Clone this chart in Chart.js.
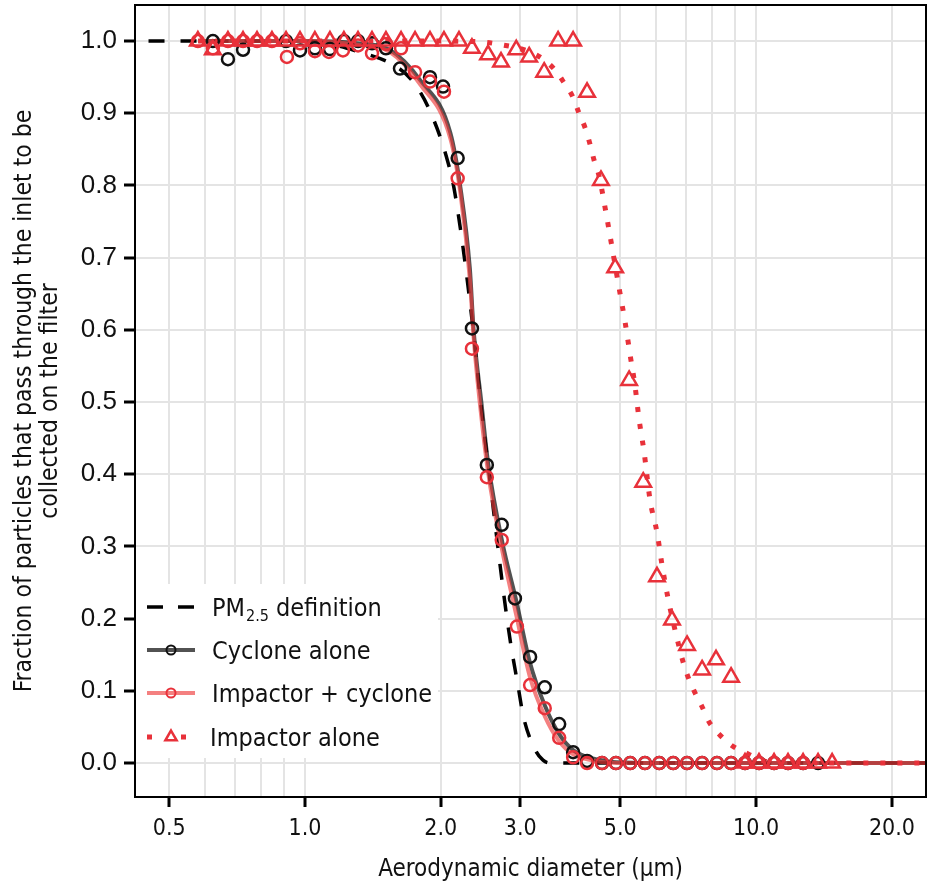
<!DOCTYPE html>
<html>
<head>
<meta charset="utf-8">
<script src="https://cdn.jsdelivr.net/npm/chart.js@4.4.1/dist/chart.umd.min.js"></script>
<style>
html, body { margin: 0; padding: 0; background: #ffffff; }
#wrap { width: 929px; height: 892px; }
</style>
</head>
<body>
<div id="wrap"><canvas id="c" width="929" height="892"></canvas></div>
<script>
// ---------- DATA ----------
const xTickValues = [0.5, 1, 2, 3, 5, 10, 20];
const xTickLabels = ['0.5', '1.0', '2.0', '3.0', '5.0', '10.0', '20.0'];
const xGridValues = [0.5, 0.6, 0.7, 0.8, 0.9, 1, 2, 3, 4, 5, 6, 7, 8, 9, 10, 20];
const yTickValues = [0, 0.1, 0.2, 0.3, 0.4, 0.5, 0.6, 0.7, 0.8, 0.9, 1.0];
const yTickLabels = ['0.0', '0.1', '0.2', '0.3', '0.4', '0.5', '0.6', '0.7', '0.8', '0.9', '1.0'];

const xTitle = 'Aerodynamic diameter (μm)';
const yTitle = ['Fraction of particles that pass through the inlet to be', 'collected on the filter'];
const legendLabels = ['PM', '2.5', ' definition', 'Cyclone alone', 'Impactor + cyclone', 'Impactor alone'];

// PM2.5 definition curve (dashed)
const pm25X = [0.45, 1.0, 1.32, 1.6, 1.74, 1.89, 2.06, 2.15, 2.36, 2.45, 2.55, 2.75, 2.85, 2.97, 3.05, 3.24, 3.37, 3.5, 23.8];
const pm25Y = [1.0, 1.0, 0.985, 0.964, 0.943, 0.904, 0.839, 0.789, 0.60, 0.50, 0.41, 0.24, 0.17, 0.105, 0.064, 0.018, 0.004, 0.0, 0.0];

// Cyclone alone: fitted line
const cycFitX = [0.58, 1.0, 1.3, 1.54, 1.8, 2.1, 2.21, 2.32, 2.365, 2.46, 2.55, 2.74, 2.94, 3.15, 3.4, 3.66, 3.93, 4.3, 4.9, 6.0, 23.8];
const cycFitY = [1.0, 1.0, 0.997, 0.988, 0.946, 0.873, 0.798, 0.685, 0.60, 0.50, 0.413, 0.305, 0.225, 0.14, 0.08, 0.04, 0.018, 0.007, 0.001, 0.0, 0.0];
// Cyclone alone: measured points
const cycX = [0.625, 0.675, 0.729, 0.908, 0.975, 1.052, 1.136, 1.22, 1.311, 1.408, 1.512, 1.624, 1.893, 2.023, 2.18, 2.345, 2.53, 2.73, 2.92, 3.155, 3.40, 3.66, 3.93, 4.22, 4.555, 4.89, 5.26, 5.67, 6.10, 6.55, 7.03, 7.59, 8.19, 8.80, 9.45, 10.15, 10.96, 11.77, 12.71, 13.72];
const cycY = [1.0, 0.975, 0.988, 1.0, 0.987, 0.99, 0.989, 1.0, 1.0, 0.997, 0.99, 0.962, 0.950, 0.937, 0.838, 0.602, 0.413, 0.33, 0.228, 0.147, 0.105, 0.054, 0.015, 0.003, 0, 0, 0, 0, 0, 0, 0, 0, 0, 0, 0, 0, 0, 0, 0, 0];

// Impactor + cyclone: fitted line
const icFitX = [0.58, 1.0, 1.3, 1.54, 1.8, 2.1, 2.21, 2.32, 2.365, 2.44, 2.55, 2.74, 2.94, 3.15, 3.4, 3.66, 3.93, 4.3, 4.9, 6.0, 23.8];
const icFitY = [1.0, 1.0, 0.995, 0.985, 0.94, 0.865, 0.79, 0.67, 0.59, 0.50, 0.40, 0.293, 0.205, 0.12, 0.065, 0.03, 0.012, 0.004, 0.0, 0.0, 0.0];
// Impactor + cyclone: measured points
const icX = [0.579, 0.625, 0.675, 0.729, 0.783, 0.845, 0.912, 0.975, 1.052, 1.13, 1.214, 1.311, 1.408, 1.512, 1.633, 1.754, 1.893, 2.033, 2.18, 2.345, 2.53, 2.73, 2.95, 3.155, 3.40, 3.66, 3.93, 4.22, 4.555, 4.89, 5.26, 5.67, 6.10, 6.55, 7.03, 7.59, 8.19, 8.80, 9.45, 10.15, 10.96, 11.77, 12.71];
const icY = [1.0, 0.99, 1.0, 1.0, 1.0, 1.0, 0.978, 0.997, 0.986, 0.985, 0.987, 0.994, 0.983, 0.996, 0.99, 0.957, 0.944, 0.930, 0.81, 0.574, 0.396, 0.309, 0.189, 0.108, 0.076, 0.035, 0.008, 0, 0, 0, 0, 0, 0, 0, 0, 0, 0, 0, 0, 0, 0, 0, 0];

// Impactor alone: fitted line (dotted)
const impFitX = [0.58, 2.0, 2.443, 2.666, 3.123, 3.372, 3.584, 3.772, 3.929, 4.051, 4.177, 4.285, 4.374, 4.487, 4.627, 4.969, 5.123, 5.255, 5.391, 5.503, 5.645, 5.821, 6.032, 6.188, 6.38, 6.613, 6.889, 7.067, 7.324, 7.59, 7.866, 8.28, 8.846, 9.502, 10.2, 11.0, 23.8];
const impFitY = [1.0, 1.0, 0.999, 0.996, 0.986, 0.975, 0.96, 0.94, 0.922, 0.90, 0.88, 0.857, 0.835, 0.813, 0.769, 0.658, 0.611, 0.566, 0.522, 0.476, 0.431, 0.364, 0.319, 0.274, 0.228, 0.184, 0.14, 0.119, 0.097, 0.078, 0.057, 0.04, 0.024, 0.014, 0.005, 0.0, 0.0];
// Impactor alone: measured points
const impX = [0.579, 0.625, 0.675, 0.729, 0.783, 0.845, 0.908, 0.975, 1.052, 1.136, 1.22, 1.311, 1.408, 1.512, 1.633, 1.754, 1.893, 2.033, 2.195, 2.345, 2.546, 2.72, 2.94, 3.14, 3.39, 3.64, 3.93, 4.22, 4.53, 4.87, 5.23, 5.62, 6.03, 6.51, 7.03, 7.59, 8.15, 8.80, 9.45, 10.15, 10.96, 11.77, 12.71, 13.72, 14.74];
const impY = [1.0, 0.988, 1.0, 1.0, 1.0, 1.0, 1.0, 1.0, 1.0, 1.0, 1.0, 1.0, 1.0, 1.0, 1.0, 1.0, 1.0, 1.0, 1.0, 0.99, 0.981, 0.971, 0.988, 0.978, 0.957, 1.0, 1.0, 0.929, 0.807, 0.686, 0.530, 0.389, 0.258, 0.198, 0.163, 0.129, 0.143, 0.119, 0, 0, 0, 0, 0, 0, 0];

// ---------- STYLE ----------
const COND = '"DejaVu Sans Condensed", "Liberation Sans Narrow", sans-serif';
const WIDE = '"Liberation Sans", Arial, sans-serif';
const RED = '#e8313a';
const LIGHTRED = 'rgba(238, 60, 60, 0.65)';
const GREY = 'rgba(0, 0, 0, 0.68)';
const GRID = '#e4e4e4';

const pts = (xs, ys) => xs.map((x, i) => ({ x: x, y: ys[i] }));

const legendPlugin = {
  id: 'customLegend',
  afterDatasetsDraw(chart) {
    const ctx = chart.ctx;
    const a = chart.chartArea;
    const L = a.left;
    const boxTop = a.bottom - 213, boxH = 174, boxW = 302;
    ctx.save();
    ctx.fillStyle = '#ffffff';
    ctx.fillRect(L + 1, boxTop, boxW, boxH);
    const x0 = L + 12, x1 = L + 60, xm = L + 36, tx = L + 77;
    const rows = [boxTop + 23, boxTop + 66, boxTop + 109, boxTop + 153];
    // row 1 : PM2.5 dashed
    ctx.strokeStyle = '#000'; ctx.lineWidth = 3.5; ctx.setLineDash([16, 15]);
    ctx.beginPath(); ctx.moveTo(x0, rows[0]); ctx.lineTo(x1, rows[0]); ctx.stroke();
    ctx.setLineDash([]);
    // row 2 : cyclone
    ctx.strokeStyle = GREY; ctx.lineWidth = 4;
    ctx.beginPath(); ctx.moveTo(x0, rows[1]); ctx.lineTo(x1, rows[1]); ctx.stroke();
    ctx.strokeStyle = '#111'; ctx.lineWidth = 2;
    ctx.beginPath(); ctx.arc(xm, rows[1], 4.5, 0, Math.PI * 2); ctx.stroke();
    // row 3 : impactor + cyclone
    ctx.strokeStyle = LIGHTRED; ctx.lineWidth = 4;
    ctx.beginPath(); ctx.moveTo(x0, rows[2]); ctx.lineTo(x1, rows[2]); ctx.stroke();
    ctx.strokeStyle = RED; ctx.lineWidth = 2;
    ctx.beginPath(); ctx.arc(xm, rows[2], 4.5, 0, Math.PI * 2); ctx.stroke();
    // row 4 : impactor alone
    ctx.fillStyle = RED;
    ctx.fillRect(x0, rows[3] - 2.5, 5, 5);
    ctx.fillRect(xm + 10, rows[3] - 2.5, 5, 5);
    ctx.strokeStyle = RED; ctx.lineWidth = 2.5;
    const r = 6.5;
    ctx.beginPath();
    ctx.moveTo(xm, rows[3] - r);
    ctx.lineTo(xm + r * 0.866, rows[3] + r * 0.5);
    ctx.lineTo(xm - r * 0.866, rows[3] + r * 0.5);
    ctx.closePath(); ctx.stroke();
    // texts
    ctx.fillStyle = '#111';
    ctx.textBaseline = 'alphabetic';
    ctx.textAlign = 'left';
    const big = '25px ' + COND, small = '16px ' + COND;
    const base = 9;
    ctx.font = big;
    ctx.fillText(legendLabels[0], tx, rows[0] + base);
    let w = ctx.measureText(legendLabels[0]).width;
    ctx.font = small;
    ctx.fillText(legendLabels[1], tx + w + 1, rows[0] + base + 5);
    const w2 = ctx.measureText(legendLabels[1]).width;
    ctx.font = big;
    ctx.fillText(legendLabels[2], tx + w + 1 + w2, rows[0] + base);
    ctx.fillText(legendLabels[3], tx, rows[1] + base);
    ctx.fillText(legendLabels[4], tx, rows[2] + base);
    ctx.fillText(legendLabels[5], tx - 2, rows[3] + base);
    ctx.restore();
  }
};

const framePlugin = {
  id: 'frame',
  afterDraw(chart) {
    const a = chart.chartArea, ctx = chart.ctx;
    ctx.save();
    ctx.strokeStyle = '#000'; ctx.lineWidth = 2;
    ctx.strokeRect(a.left, a.top, a.right - a.left, a.bottom - a.top);
    ctx.restore();
  }
};

new Chart(document.getElementById('c'), {
  type: 'scatter',
  data: {
    datasets: [
      { label: 'Impactor alone', data: pts(impX, impY), showLine: false, pointStyle: 'triangle', pointRadius: 9, pointBorderWidth: 2.5, pointBorderColor: RED, pointBackgroundColor: 'rgba(0,0,0,0)', order: 1 },
      { label: 'Impactor + cyclone', data: pts(icX, icY), showLine: false, pointStyle: 'circle', pointRadius: 6, pointBorderWidth: 2.5, pointBorderColor: RED, pointBackgroundColor: 'rgba(0,0,0,0)', order: 2 },
      { label: 'Cyclone alone', data: pts(cycX, cycY), showLine: false, pointStyle: 'circle', pointRadius: 6, pointBorderWidth: 2.5, pointBorderColor: '#111', pointBackgroundColor: 'rgba(0,0,0,0)', order: 3 },
      { label: 'Impactor alone fit', data: pts(impFitX, impFitY), showLine: true, pointRadius: 0, borderColor: RED, borderWidth: 5, borderDash: [5, 12], borderCapStyle: 'butt', cubicInterpolationMode: 'monotone', order: 4 },
      { label: 'Impactor + cyclone fit', data: pts(icFitX, icFitY), showLine: true, pointRadius: 0, borderColor: LIGHTRED, borderWidth: 4, cubicInterpolationMode: 'monotone', order: 5 },
      { label: 'Cyclone alone fit', data: pts(cycFitX, cycFitY), showLine: true, pointRadius: 0, borderColor: GREY, borderWidth: 4, cubicInterpolationMode: 'monotone', order: 6 },
      { label: 'PM2.5 definition', data: pts(pm25X, pm25Y), showLine: true, pointRadius: 0, borderColor: '#000', borderWidth: 3.5, borderDash: [16, 16], borderCapStyle: 'butt', cubicInterpolationMode: 'monotone', order: 7 }
    ]
  },
  options: {
    responsive: false,
    animation: false,
    devicePixelRatio: 1,
    layout: { autoPadding: false, padding: { left: 0, right: 3, top: 5, bottom: 0 } },
    plugins: { legend: { display: false }, tooltip: { enabled: false } },
    scales: {
      x: {
        type: 'logarithmic',
        min: 0.42, max: 23.8,
        afterBuildTicks: s => { s.ticks = xGridValues.map(v => ({ value: v })); },
        afterFit: s => { s.height = 95; s.paddingLeft = 0; s.paddingRight = 0; },
        ticks: {
          autoSkip: false, maxRotation: 0, minRotation: 0, padding: 8, color: '#111',
          font: { family: COND, size: 23 },
          callback: (v) => { const i = xTickValues.indexOf(v); return i >= 0 ? xTickLabels[i] : ''; }
        },
        grid: {
          color: GRID, lineWidth: 2, tickLength: 10, tickWidth: 3,
          tickColor: c => (c.tick && xTickValues.indexOf(c.tick.value) >= 0) ? '#000' : 'rgba(0,0,0,0)'
        },
        border: { display: false },
        title: { display: true, text: xTitle, color: '#111', font: { family: COND, size: 24 }, padding: { top: 0, bottom: 8 } }
      },
      y: {
        min: -0.047, max: 1.05,
        afterBuildTicks: s => { s.ticks = yTickValues.map(v => ({ value: v })); },
        afterFit: s => { s.width = 135; s.paddingTop = 0; s.paddingBottom = 0; },
        ticks: {
          padding: 7, color: '#111',
          font: { family: WIDE, size: 26 },
          callback: (v) => { const i = yTickValues.indexOf(v); return i >= 0 ? yTickLabels[i] : ''; }
        },
        grid: { color: GRID, lineWidth: 2, tickLength: 11, tickWidth: 3, tickColor: '#000' },
        border: { display: false },
        title: { display: true, text: yTitle, color: '#111', font: { family: COND, size: 24.5, lineHeight: 1.05 }, padding: { top: 12, bottom: 0 } }
      }
    }
  },
  plugins: [legendPlugin, framePlugin]
});
</script>
</body>
</html>
